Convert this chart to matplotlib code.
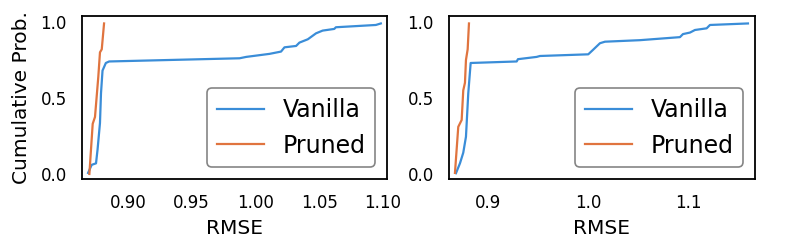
import matplotlib
matplotlib.use("Agg")
import matplotlib.pyplot as plt

# Left panel: (RMSE, cumulative probability)
left_vanilla_rmse = [0.8688, 0.8716, 0.8750, 0.8762, 0.8781, 0.8789, 0.8801, 0.8827, 0.8853,
                     0.9875, 0.9927, 1.0110, 1.0200, 1.0227, 1.0318, 1.0344, 1.0410,
                     1.0474, 1.0526, 1.0617, 1.0630, 1.0943, 1.0982]
left_vanilla_prob = [0.007, 0.060, 0.070, 0.160, 0.335, 0.530, 0.680, 0.730, 0.740,
                     0.761, 0.770, 0.790, 0.805, 0.833, 0.842, 0.864, 0.886,
                     0.925, 0.943, 0.954, 0.965, 0.980, 0.990]
left_pruned_rmse = [0.8698, 0.8724, 0.8742, 0.8768, 0.8781, 0.8795, 0.8813]
left_pruned_prob = [0.000, 0.330, 0.375, 0.640, 0.800, 0.820, 0.990]

# Right panel
right_vanilla_rmse = [0.8680, 0.8720, 0.8753, 0.8780, 0.8803, 0.8827, 0.9287, 0.9300, 0.9487,
                      0.9520, 1.0003, 1.0050, 1.0120, 1.0170, 1.0520, 1.0920, 1.0950,
                      1.1020, 1.1070, 1.1187, 1.1220, 1.1600]
right_vanilla_prob = [0.005, 0.070, 0.140, 0.245, 0.530, 0.730, 0.740, 0.755, 0.770,
                      0.776, 0.787, 0.816, 0.860, 0.870, 0.880, 0.900, 0.920,
                      0.930, 0.947, 0.958, 0.980, 0.990]
right_pruned_rmse = [0.8670, 0.8703, 0.8737, 0.8753, 0.8770, 0.8780, 0.8797, 0.8810]
right_pruned_prob = [0.007, 0.310, 0.355, 0.550, 0.600, 0.750, 0.820, 0.990]

labels = ["Vanilla", "Pruned"]
left_xticks = [0.90, 0.95, 1.00, 1.05, 1.10]
right_xticks = [0.9, 1.0, 1.1]
yticks = [0.0, 0.5, 1.0]

blue = "#3a8dd8"
orange = "#e0743f"

fig = plt.figure(figsize=(7.86, 2.52), dpi=100)
ax1 = fig.add_axes([0.1043, 0.2897, 0.388, 0.6468])
ax2 = fig.add_axes([0.5712, 0.2897, 0.3893, 0.6468])

panels = [
    (ax1, left_vanilla_rmse, left_vanilla_prob, left_pruned_rmse, left_pruned_prob,
     left_xticks, ["0.90", "0.95", "1.00", "1.05", "1.10"], (0.864, 1.103)),
    (ax2, right_vanilla_rmse, right_vanilla_prob, right_pruned_rmse, right_pruned_prob,
     right_xticks, ["0.9", "1.0", "1.1"], (0.861, 1.167)),
]

for ax, vx, vy, px, py, xt, xtl, xl in panels:
    ax.plot(vx, vy, color=blue, lw=1.6, label=labels[0])
    ax.plot(px, py, color=orange, lw=1.6, label=labels[1])
    ax.set_xlim(*xl)
    ax.set_ylim(-0.033, 1.039)
    ax.set_xticks(xt)
    ax.set_xticklabels(xtl)
    ax.set_yticks(yticks)
    ax.set_yticklabels(["0.0", "0.5", "1.0"])
    ax.tick_params(length=0, labelsize=12, pad=11)
    for s in ax.spines.values():
        s.set_linewidth(1.3)
        s.set_color("black")
    ax.set_xlabel("RMSE", fontsize=14.5, labelpad=5)
    leg = ax.legend(loc="lower right", fontsize=17, frameon=True, fancybox=True)
    leg.get_frame().set_edgecolor("#666666")
    leg.get_frame().set_linewidth(1.2)

ax1.set_ylabel("Cumulative Prob.", fontsize=14.5, labelpad=7)

fig.savefig("out.png", dpi=100)
